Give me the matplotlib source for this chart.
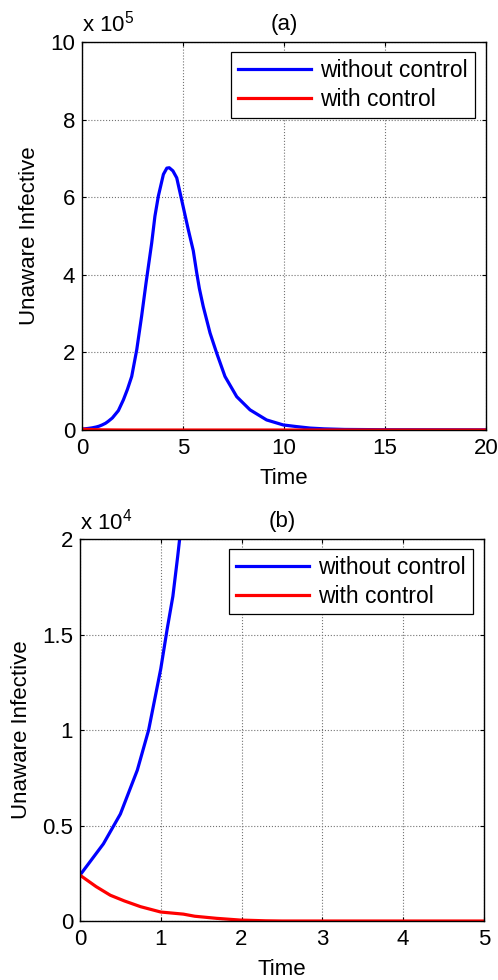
import matplotlib
matplotlib.use('Agg')
import matplotlib.pyplot as plt
import numpy as np

plt.rcParams['font.family'] = ['Liberation Sans', 'DejaVu Sans']
plt.rcParams['mathtext.fontset'] = 'custom'
plt.rcParams['mathtext.rm'] = 'Liberation Sans'
plt.rcParams['mathtext.default'] = 'regular'

# unaware infective, without control
t_without = [0, 0.29, 0.5, 0.71, 0.85, 1.0, 1.08, 1.15, 1.21, 1.3, 1.5, 1.8,
             2.05, 2.25, 2.46, 2.71, 2.95, 3.17, 3.45, 3.61, 3.78, 4.03, 4.2,
             4.32, 4.5, 4.69, 4.93, 5.26, 5.51, 5.68, 5.81, 6.0, 6.34, 6.67,
             7.08, 7.66, 8.32, 9.14, 9.97, 10.6, 11.3, 12, 13, 15, 20]
i_without = [2400, 4040, 5600, 7900, 10000, 13200, 15300, 17000, 19100, 22500,
             31000, 50000, 78000, 105000, 138000, 207000, 293000, 379000,
             482000, 551000, 603000, 659000, 675000, 676000, 668000, 650000,
             594000, 517000, 462000, 405000, 365000, 319000, 250000, 198000,
             138000, 86000, 52000, 26000, 13000, 9000, 5000, 3000, 1500, 800,
             500]

# unaware infective, with control
t_with = [0, 0.2, 0.375, 0.55, 0.75, 1.0, 1.28, 1.42, 1.69, 1.98, 2.3, 2.5, 5, 20]
i_with = [2400, 1800, 1350, 1050, 750, 470, 360, 250, 140, 50, 10, 0, 0, 0]

panels = [
    # label, rect, xmax, xticks, exponent, ymax, yticks, yticklabels
    ('(a)', [0.1647, 0.5612, 0.811, 0.3959], 20, [0, 5, 10, 15, 20], 5, 10,
     [0, 2, 4, 6, 8, 10], ['0', '2', '4', '6', '8', '10']),
    ('(b)', [0.1606, 0.0602, 0.811, 0.3898], 5, [0, 1, 2, 3, 4, 5], 4, 2,
     [0, 0.5, 1, 1.5, 2], ['0', '0.5', '1', '1.5', '2']),
]

fs = 16
fig = plt.figure(figsize=(4.98, 9.8), dpi=100)
for label, rect, xmax, xt, ex, ymax, yt, ytl in panels:
    ax = fig.add_axes(rect)
    s = 10.0 ** ex
    ax.plot(t_without, np.array(i_without) / s, color='#0000ff', lw=2.3,
            label='without control')
    ax.plot(t_with, np.array(i_with) / s, color='#ff0000', lw=2.3,
            label='with control')
    ax.set_xlim(0, xmax)
    ax.set_ylim(0, ymax)
    ax.set_xticks(xt)
    ax.set_yticks(yt)
    ax.set_yticklabels(ytl)
    ax.grid(True, color='0.45', ls=':', lw=0.8)
    ax.tick_params(direction='in', top=True, right=True, labelsize=fs,
                   length=3, width=0.8)
    ax.tick_params(axis='x', pad=6)
    ax.tick_params(axis='y', pad=5)
    for sp in ax.spines.values():
        sp.set_linewidth(1.0)
    ax.set_xlabel('Time', fontsize=fs, labelpad=6)
    ax.set_ylabel('Unaware Infective', fontsize=fs, labelpad=7)
    ax.set_title(label, fontsize=fs, pad=9)
    ax.text(0.0, 1.026, r'x 10$^{%d}$' % ex, transform=ax.transAxes,
            fontsize=fs, ha='left', va='baseline')
    leg = ax.legend(loc='upper right', bbox_to_anchor=(0.973, 0.974),
                    fontsize=16.5, handlelength=3.2, handletextpad=0.4,
                    borderpad=0.3, labelspacing=0.25, fancybox=False,
                    framealpha=1, edgecolor='black', borderaxespad=0)
    leg.get_frame().set_linewidth(0.9)

fig.savefig('out.png', dpi=100)
